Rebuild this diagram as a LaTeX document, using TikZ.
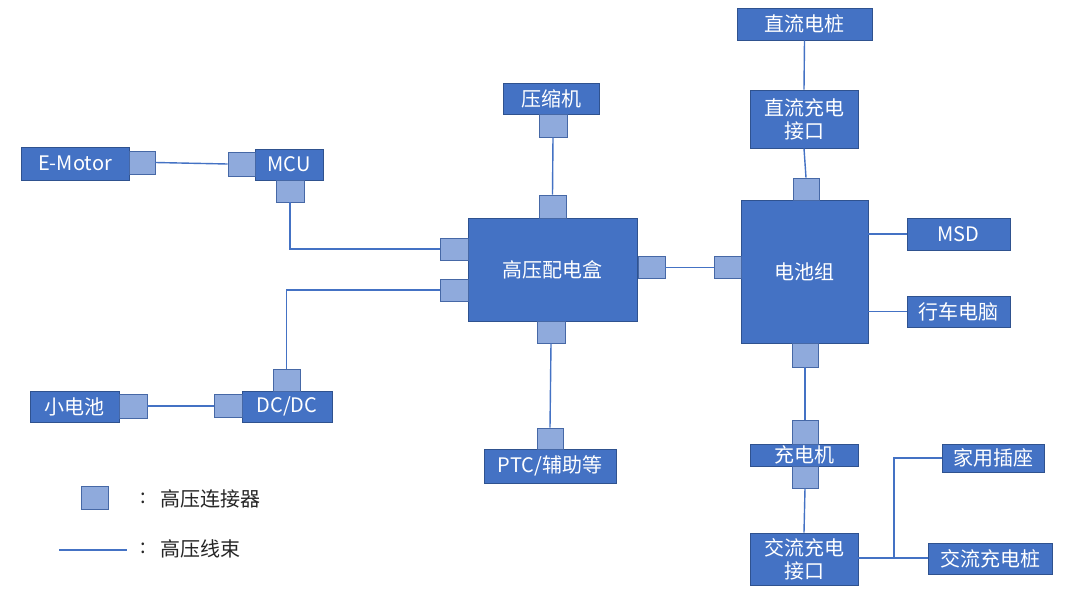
\documentclass[tikz,border=0pt]{standalone}
\usepackage{fontspec}
\newfontfamily\cjk{Noto Sans CJK SC}
\definecolor{boxblue}{HTML}{4472C4}
\definecolor{boxedge}{HTML}{2F528F}
\definecolor{connfill}{HTML}{8FAADC}
\definecolor{connedge}{HTML}{4668A6}
\definecolor{wire}{HTML}{4472C4}
\tikzset{
  box/.style={draw=boxedge, fill=boxblue, text=white, line width=0.9pt,
    font=\cjk\fontsize{20}{23}\selectfont, inner sep=0pt, align=center},
  conn/.style={draw=connedge, fill=connfill, line width=0.9pt, inner sep=0pt,
    minimum width=27, minimum height=23},
  wirel/.style={draw=wire, line width=1.4pt},
  legtext/.style={text=black!85, font=\cjk\fontsize{20}{23}\selectfont, inner sep=0pt}
}
\begin{document}
\begin{tikzpicture}[x=1pt,y=-1pt]
\useasboundingbox[fill=white] (0,0) rectangle (1080,600);
% boxes
\node[box, minimum width=108, minimum height=33] (emotor) at (75,163.5) {E-Motor};
\node[box, minimum width=68, minimum height=31] (mcu) at (289,164.5) {MCU};
\node[box, minimum width=169, minimum height=103] (hv) at (552.5,269.5) {高压配电盒};
\node[box, minimum width=127, minimum height=143] (bat) at (804.5,271.5) {电池组};
\node[box, minimum width=135, minimum height=32] (dcpile) at (804.5,24) {直流电桩};
\node[box, minimum width=108, minimum height=58] (dcport) at (804,119) {直流充电\\接口};
\node[box, minimum width=103, minimum height=32] (msd) at (958.5,234) {MSD};
\node[box, minimum width=103, minimum height=31] (vcu) at (958.5,311.5) {行车电脑};
\node[box, minimum width=108, minimum height=22] (chg) at (804,455) {充电机};
\node[box, minimum width=108, minimum height=52] (acport) at (804,559) {交流充电\\接口};
\node[box, minimum width=124, minimum height=31] (acpile) at (990,558.5) {交流充电桩};
\node[box, minimum width=102, minimum height=28] (home) at (993,458) {家用插座};
\node[box, minimum width=96, minimum height=31] (comp) at (551,98.5) {压缩机};
\node[box, minimum width=132, minimum height=34] (ptc) at (550,466) {PTC/辅助等};
\node[box, minimum width=89, minimum height=31] (sbat) at (74.5,406.5) {小电池};
\node[box, minimum width=90, minimum height=31] (dcdc) at (287,406.5) {DC/DC};
% connectors
\node[conn, minimum width=26] (cem) at (142,162.5) {};
\node[conn, minimum height=24] (cmcul) at (241.5,164) {};
\node[conn, minimum width=28, minimum height=22] (cmcub) at (290,191) {};
\node[conn] (chvt) at (552.5,206.5) {};
\node[conn, minimum width=28, minimum height=22] (chvl1) at (454,249) {};
\node[conn, minimum width=28, minimum height=22] (chvl2) at (454,290) {};
\node[conn, minimum height=22] (chvr) at (651.5,267.5) {};
\node[conn, minimum width=28, minimum height=22] (chvb) at (551,332) {};
\node[conn, minimum height=22] (cbatl) at (727.5,267.5) {};
\node[conn, minimum width=26, minimum height=22] (cbatt) at (806,189) {};
\node[conn, minimum width=26, minimum height=24] (cbatb) at (805,355) {};
\node[conn, minimum width=26, minimum height=24] (cchgt) at (805,432) {};
\node[conn, minimum width=26, minimum height=22] (cchgb) at (805,477) {};
\node[conn, minimum width=28] (ccomp) at (553,125.5) {};
\node[conn, minimum width=26, minimum height=21] (cptc) at (550,438.5) {};
\node[conn, minimum width=28, minimum height=24] (csb) at (133,406) {};
\node[conn, minimum width=28] (cdcl) at (228,406) {};
\node[conn, minimum height=22] (cdct) at (286.5,380) {};
% wires
\draw[wirel] (cem.east) -- (cmcul.west);
\draw[wirel] (cmcub.south) |- (chvl1.west);
\draw[wirel] (cdct.north) |- (chvl2.west);
\draw[wirel] (csb.east) -- (cdcl.west);
\draw[wirel] (chvr.east) -- (cbatl.west);
\draw[wirel] (ccomp.south) -- (chvt.north);
\draw[wirel] (chvb.south) -- (cptc.north);
\draw[wirel] (dcpile.south) -- (dcport.north);
\draw[wirel] (dcport.south) -- (cbatt.north);
\draw[wirel] (msd.west -| bat.east) -- (msd.west);
\draw[wirel] (vcu.west -| bat.east) -- (vcu.west);
\draw[wirel] (cbatb.south) -- (cchgt.north);
\draw[wirel] (cchgb.south) -- (acport.north);
\coordinate (jn) at (894,558);
\draw[wirel] (acport.east |- jn) -- (acpile.west |- jn);
\draw[wirel] (jn) |- (home.west);
% legend
\node[conn] (lconn) at (94.5,497.5) {};
\node[legtext] (lcolon1) at (143,498) {:};
\node[legtext, anchor=west] (ltext1) at (160,499) {高压连接器};
\coordinate (ll1) at (59,550);
\coordinate (ll2) at (127,550);
\draw[wirel] (ll1) -- (ll2);
\node[legtext] (lcolon2) at (143,548) {:};
\node[legtext, anchor=west] (ltext2) at (160,549) {高压线束};
\end{tikzpicture}
\end{document}
